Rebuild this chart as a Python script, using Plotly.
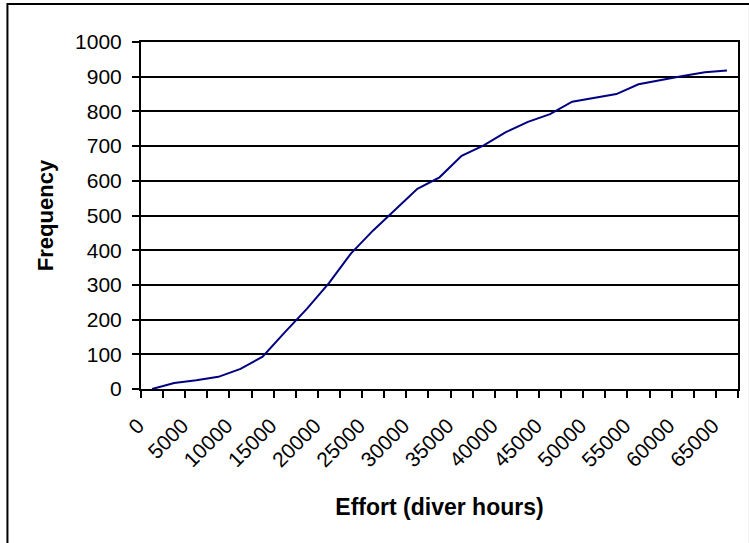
import plotly.graph_objects as go

# effort categories (diver hours) and cumulative frequency
effort = [0, 2500, 5000, 7500, 10000, 12500, 15000, 17500, 20000, 22500,
          25000, 27500, 30000, 32500, 35000, 37500, 40000, 42500, 45000,
          47500, 50000, 52500, 55000, 57500, 60000, 62500, 65000]
frequency = [0, 17, 25, 35, 58, 93, 163, 231, 305, 391,
             457, 517, 577, 610, 672, 702, 740, 770, 792,
             828, 839, 850, 878, 891, 902, 913, 918]
x_labels = [0, 5000, 10000, 15000, 20000, 25000, 30000, 35000,
            40000, 45000, 50000, 55000, 60000, 65000]

W, H = 749, 543
L, R, T, B = 141, 740, 42, 389  # plot area in pixels

step = effort[1] - effort[0]
boundaries = [e - step / 2 for e in effort] + [effort[-1] + step / 2]


def px_x(p):
    return (p - L) / (R - L)


def px_y(p):
    return (B - p) / (B - T)


font = "Liberation Sans, Arial, sans-serif"

fig = go.Figure()

fig.add_trace(go.Scatter(
    x=effort,
    y=frequency,
    mode='lines',
    line=dict(color='#000080', width=2),
    showlegend=False
))

fig.update_xaxes(
    range=[boundaries[0], boundaries[-1]],
    tickmode='array',
    tickvals=x_labels,
    ticktext=[str(v) for v in x_labels],
    tickangle=-45,
    ticks='',
    showgrid=False,
    zeroline=False,
    showline=True,
    linecolor='black',
    linewidth=2,
    mirror=True,
    tickfont=dict(family=font, size=21, color='black'),
    ticklabelstandoff=14,
    ticklabelshift=-14,
    minor=dict(tickmode='array', tickvals=boundaries, ticks='outside',
               ticklen=7, tickwidth=2, tickcolor='black', showgrid=False),
    title=dict(text='<b>Effort (diver hours)</b>',
               font=dict(family=font, size=23, color='black'),
               standoff=29)
)

fig.update_yaxes(
    range=[0, 1000],
    dtick=100,
    ticks='outside',
    ticklen=7,
    tickwidth=2,
    tickcolor='black',
    showgrid=True,
    gridcolor='black',
    gridwidth=1.8,
    zeroline=False,
    showline=True,
    linecolor='black',
    linewidth=2,
    mirror=True,
    tickfont=dict(family=font, size=21, color='black'),
    ticklabelstandoff=6,
    title=dict(text='<b>Frequency</b>',
               font=dict(family=font, size=22, color='black'),
               standoff=15)
)

# chart area border
fig.add_shape(type='rect', xref='paper', yref='paper',
              x0=px_x(7), x1=px_x(752), y0=px_y(548), y1=px_y(4),
              line=dict(color='black', width=2), fillcolor='rgba(0,0,0,0)',
              layer='below')

fig.update_layout(
    width=W,
    height=H,
    margin=dict(l=L, r=W - R, t=T, b=H - B),
    plot_bgcolor='white',
    paper_bgcolor='white',
    font=dict(family=font, color='black')
)

# drop the default page margin so the figure sits at the window's corner
fig.write_html("out.html", config={'displayModeBar': False},
               post_script="document.body.style.margin = '0';")
